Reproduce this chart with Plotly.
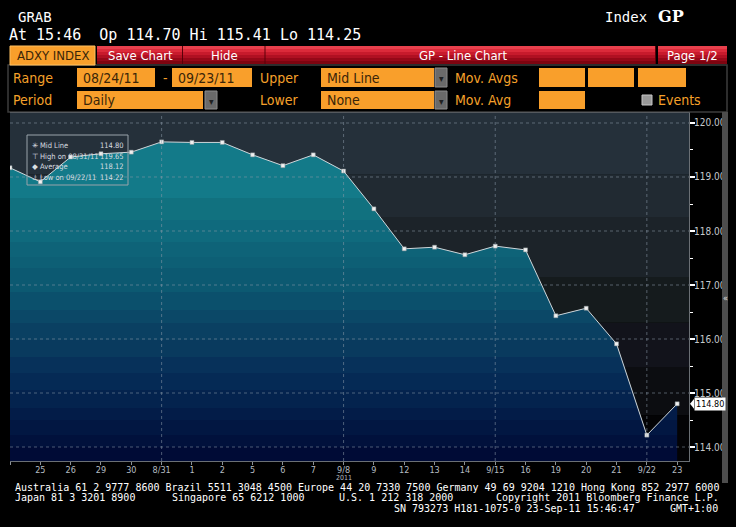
import plotly.graph_objects as go

# ---------------- data ----------------
dates = ["8/24", "8/25", "8/26", "8/29", "8/30", "8/31", "9/1", "9/2", "9/5", "9/6", "9/7", "9/8",
         "9/9", "9/12", "9/13", "9/14", "9/15", "9/16", "9/19", "9/20", "9/21", "9/22", "9/23"]
tick_labels = ["", "25", "26", "29", "30", "8/31", "1", "2", "5", "6", "7", "9/8",
               "9", "12", "13", "14", "9/15", "16", "19", "20", "21", "9/22", "23"]
values = [119.17, 118.91, 119.37, 119.43, 119.46, 119.65, 119.64, 119.64, 119.41, 119.21, 119.41, 119.11,
          118.41, 117.67, 117.70, 117.56, 117.72, 117.65, 116.43, 116.57, 115.91, 114.22, 114.80]
y_ticks = [114, 115, 116, 117, 118, 119, 120]
legend_rows = [("✳", "Mid Line", "114.80"), ("⊤", "High on 08/31/11", "119.65"),
               ("◆", "Average", "118.12"), ("⊥", "Low on 09/22/11", "114.22")]

W, H = 736, 527
def X(p): return p / W
def Y(p): return 1 - p / H

Y_LO, Y_HI = 113.741, 120.185
X_HI = 22.39

FONT_C = "DejaVu Sans Condensed"
FONT_M = "DejaVu Sans Mono"
ORANGE = "#f99f2b"
ORANGE_TXT = "#f5a02a"

x_idx = list(range(len(dates)))

# stepped fill gradient (value bottom, colour)
fill_bands = [(113.74, "#000b36"), (114.00, "#01113c"), (114.22, "#021742"), (114.50, "#031c48"),
              (114.72, "#04234e"), (115.06, "#052a55"), (115.37, "#07315a"), (115.67, "#093a5e"),
              (115.98, "#0a4062"), (116.30, "#0b4867"), (116.54, "#0b506c"), (116.87, "#0c5971"),
              (117.31, "#0d5f75"), (117.52, "#0e6378"), (117.80, "#0f6a7d"), (118.20, "#11717f"),
              (118.61, "#137a89")]
cs = []
span = Y_HI - Y_LO
for i, (v, c) in enumerate(fill_bands):
    p0 = max(0.0, (v - Y_LO) / span)
    p1 = (fill_bands[i + 1][0] - Y_LO) / span if i + 1 < len(fill_bands) else 1.0
    cs.append([p0, c])
    cs.append([min(1.0, p1 - 1e-6) if i + 1 < len(fill_bands) else 1.0, c])
cs[0][0] = 0.0

fig = go.Figure()
fig.add_trace(go.Scatter(
    x=x_idx, y=values, mode="lines+markers",
    line=dict(color="#cfd7db", width=1),
    marker=dict(symbol="square", size=4, color="#f0f0f0", line=dict(color="#8a9499", width=0.5)),
    fill="tozeroy",
    fillgradient=dict(type="vertical", colorscale=cs, start=Y_LO, stop=Y_HI),
    hoverinfo="skip", showlegend=False,
))

shapes = []
# plot background bands
bg_bands = [(119.04, Y_HI, "#25303a"), (118.26, 119.04, "#212a32"), (117.15, 118.26, "#1c2329"),
            (116.30, 117.15, "#151b1d"), (115.48, 116.30, "#12131b"), (114.59, 115.48, "#0c0d11"),
            (Y_LO, 114.59, "#030305")]
for y0, y1, c in bg_bands:
    shapes.append(dict(type="rect", xref="paper", yref="y", x0=X(10), x1=X(689), y0=y0, y1=y1,
                       fillcolor=c, line=dict(width=0), layer="below"))

# dotted grid lines (above fill)
for t in y_ticks:
    shapes.append(dict(type="line", xref="paper", yref="y", x0=X(10), x1=X(689), y0=t, y1=t,
                       line=dict(color="rgba(140,155,170,0.55)", width=1, dash="dot"), layer="above"))
for i in [5, 11, 16, 21]:
    shapes.append(dict(type="line", xref="x", yref="paper", x0=i, x1=i, y0=Y(461), y1=Y(113),
                       line=dict(color="rgba(140,155,170,0.55)", width=1, dash="dot"), layer="above"))
# top frame line
shapes.append(dict(type="line", xref="paper", yref="paper", x0=X(10), x1=X(690), y0=Y(112.5), y1=Y(112.5),
                   line=dict(color="#55595e", width=1)))

# legend box
shapes.append(dict(type="rect", xref="paper", yref="paper", x0=X(27), x1=X(128), y0=Y(185), y1=Y(135),
                   line=dict(color="#9aa3aa", width=1), fillcolor="rgba(0,0,0,0)", layer="above"))

# scroll bar
shapes.append(dict(type="rect", xref="paper", yref="paper", x0=X(722), x1=X(728), y0=Y(483), y1=Y(112),
                   fillcolor="#4d4d4d", line=dict(width=0)))

# last price arrow
shapes.append(dict(type="path", xref="paper", yref="y",
                   path=f"M {X(690)} {values[-1]} L {X(694)} {values[-1] + 0.09} L {X(694)} {values[-1] - 0.09} Z",
                   fillcolor="white", line=dict(width=0)))

annotations = []
def txt(x, y, s, size=13, color="white", family=FONT_C, anchor="left", yanchor="middle", **kw):
    annotations.append(dict(x=X(x), y=Y(y), xref="paper", yref="paper", text=s, showarrow=False,
                            xanchor=anchor, yanchor=yanchor,
                            font=dict(size=size, color=color, family=family), **kw))

# ---------- header ----------
txt(16, 17, "GRAB", size=14, family=FONT_M)
txt(7, 35, "At 15:46  Op 114.70 Hi 115.41 Lo 114.25", size=15, family=FONT_M)
txt(603, 17, "Index", size=14, family=FONT_M)
txt(656, 17, "<b>GP</b>", size=16, family="DejaVu Serif")

def red_button(x0, x1, y0, y1):
    cols = ["#e8404c", "#dc2a3a", "#c81a2c", "#b01022", "#960818", "#7e0410"]
    n = len(cols)
    h = (y1 - y0) / n
    for k, c in enumerate(cols):
        shapes.append(dict(type="rect", xref="paper", yref="paper", x0=X(x0), x1=X(x1),
                           y0=Y(y0 + (k + 1) * h), y1=Y(y0 + k * h), fillcolor=c, line=dict(width=0)))

shapes.append(dict(type="rect", xref="paper", yref="paper", x0=X(10), x1=X(95), y0=Y(65), y1=Y(46),
                   fillcolor=ORANGE, line=dict(color="#ffc060", width=1)))
txt(52.5, 55.5, "ADXY INDEX", size=13, color="#3a2508", anchor="center")
red_button(97, 182, 46, 64)
red_button(183, 265, 46, 64)
red_button(265, 655, 46, 64)
red_button(658, 727, 46, 64)
for xx in [182.5, 265, 655.5]:
    shapes.append(dict(type="line", xref="paper", yref="paper", x0=X(xx), x1=X(xx), y0=Y(64), y1=Y(46),
                       line=dict(color="#5a0008", width=1)))
txt(140, 55, "Save Chart", size=13, anchor="center")
txt(224, 55, "Hide", size=13, anchor="center")
txt(463, 55, "GP - Line Chart", size=13, anchor="center")
txt(692, 55, "Page 1/2", size=13, anchor="center")

# control panel frame
shapes.append(dict(type="rect", xref="paper", yref="paper", x0=X(8), x1=X(727), y0=Y(112), y1=Y(65),
                   fillcolor="black", line=dict(color="#3c3c3c", width=1.5), layer="below"))

def obox(x0, x1, y0, y1, s=None):
    shapes.append(dict(type="rect", xref="paper", yref="paper", x0=X(x0), x1=X(x1), y0=Y(y1), y1=Y(y0),
                       fillcolor=ORANGE, line=dict(width=0)))
    if s:
        txt(x0 + 4, (y0 + y1) / 2 + 0.5, s, size=14, color="#3a2508")

def dropdown(x0, y0, y1):
    shapes.append(dict(type="rect", xref="paper", yref="paper", x0=X(x0), x1=X(x0 + 12), y0=Y(y1), y1=Y(y0),
                       fillcolor="#6a6a6a", line=dict(color="#8c8c8c", width=1)))
    txt(x0 + 6, (y0 + y1) / 2 + 1, "▾", size=10, color="#202020", anchor="center")

r1a, r1b = 68, 87
r2a, r2b = 91, 109
txt(11, 77.5, "Range", size=14, color=ORANGE_TXT)
obox(77, 155, r1a, r1b, "08/24/11")
txt(165, 77.5, "-", size=14, color=ORANGE_TXT, anchor="center")
obox(172, 252, r1a, r1b, "09/23/11")
txt(258, 77.5, "Upper", size=14, color=ORANGE_TXT)
obox(321, 434, r1a, r1b, "Mid Line")
dropdown(435, r1a, r1b)
txt(453, 77.5, "Mov. Avgs", size=14, color=ORANGE_TXT)
obox(539, 585, r1a, r1b)
obox(588, 634, r1a, r1b)
obox(638, 686, r1a, r1b)

txt(11, 100, "Period", size=14, color=ORANGE_TXT)
obox(77, 203, r2a, r2b, "Daily")
dropdown(205, r2a, r2b)
txt(258, 100, "Lower", size=14, color=ORANGE_TXT)
obox(321, 434, r2a, r2b, "None")
dropdown(435, r2a, r2b)
txt(453, 100, "Mov. Avg", size=14, color=ORANGE_TXT)
obox(539, 585, r2a, r2b)
shapes.append(dict(type="rect", xref="paper", yref="paper", x0=X(642), x1=X(652), y0=Y(105), y1=Y(95),
                   fillcolor="#9a9a9a", line=dict(color="#c8c8c8", width=1)))
txt(656, 100, "Events", size=14, color=ORANGE_TXT)

# ---------- legend text ----------
for k, (sym, lab, val) in enumerate(legend_rows):
    yy = 145.5 + k * 10.5
    txt(30, yy, sym, size=7.5, color="#d8dde0", family="DejaVu Sans")
    txt(38, yy, lab, size=7.5, color="#d8dde0")
    txt(126, yy, val, size=7.5, color="#d8dde0", anchor="right")

# year label under 9/8
annotations.append(dict(x=11, y=Y(478), xref="x", yref="paper", text="2011", showarrow=False,
                        xanchor="center", yanchor="middle",
                        font=dict(size=7, color="#b4bcc2", family=FONT_C)))

# last price label
annotations.append(dict(x=X(694), y=values[-1], xref="paper", yref="y", text=f"{values[-1]:.2f}",
                        showarrow=False, xanchor="left", yanchor="middle", bgcolor="white",
                        borderpad=1, font=dict(size=9, color="black", family=FONT_C)))
txt(725, 298, "«", size=9, color="#e0e0e0", anchor="center")

# ---------- footer ----------
FC = "white"
txt(13, 487, "Australia 61 2 9777 8600 Brazil 5511 3048 4500 Europe 44 20 7330 7500 Germany 49 69 9204 1210 Hong Kong 852 2977 6000",
    size=10, color=FC, family=FONT_M)
txt(13, 497.5, "Japan 81 3 3201 8900", size=10, color=FC, family=FONT_M)
txt(170, 497.5, "Singapore 65 6212 1000", size=10, color=FC, family=FONT_M)
txt(337, 497.5, "U.S. 1 212 318 2000", size=10, color=FC, family=FONT_M)
txt(494, 497.5, "Copyright 2011 Bloomberg Finance L.P.", size=10, color=FC, family=FONT_M)
txt(392, 508, "SN 793273 H181-1075-0 23-Sep-11 15:46:47", size=10, color=FC, family=FONT_M)
txt(668, 508, "GMT+1:00", size=10, color=FC, family=FONT_M)

fig.update_layout(
    width=W, height=H, margin=dict(l=0, r=0, t=0, b=0),
    paper_bgcolor="black", plot_bgcolor="black",
    shapes=shapes, annotations=annotations, showlegend=False,
    xaxis=dict(domain=[X(10), X(689)], range=[0, X_HI], tickvals=x_idx, ticktext=tick_labels,
               showgrid=False, zeroline=False, showline=True, linecolor="#6a6f74", linewidth=1,
               ticks="outside", ticklen=3, tickcolor="#8a9095", ticklabelstandoff=-3,
               tickfont=dict(size=9, color="#b4bcc2", family=FONT_C), fixedrange=True),
    yaxis=dict(domain=[Y(461), Y(113)], range=[Y_LO, Y_HI], side="right", tickvals=y_ticks,
               tickformat=".2f", showgrid=False, zeroline=False, showline=True, linecolor="#6a6f74",
               ticks="outside", ticklen=5, tickwidth=2, tickcolor="white", ticklabelstandoff=-3,
               minor=dict(dtick=0.5, ticklen=3, tickcolor="white", tickwidth=1),
               tickfont=dict(size=10, color="#c4c8cc", family=FONT_C), fixedrange=True),
)

fig.write_html("out.html", config={"displayModeBar": False},
               post_script="document.body.style.margin='0';document.body.style.background='black';")
